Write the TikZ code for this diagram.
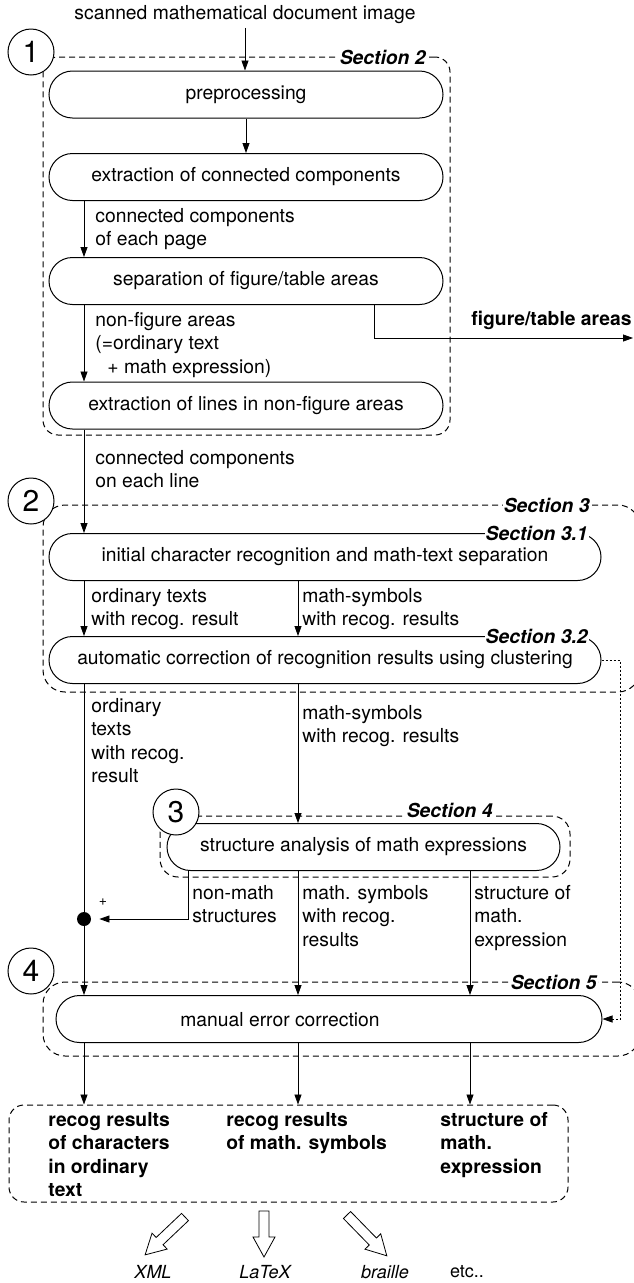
\documentclass[tikz,border=0pt]{standalone}
\usepackage{fontspec}
\setmainfont{TeX Gyre Heros}
\usetikzlibrary{arrows.meta,positioning,calc}

\begin{document}
\begin{tikzpicture}[x=1pt,y=-1pt,
 font=\fontsize{19.3}{23.3}\selectfont,
 >={Triangle[length=10pt,width=7pt]},
 line width=.8pt,
 proc/.style={draw,line width=1pt,rounded corners=23.5pt,minimum height=47pt,inner sep=0pt},
 secbox/.style={draw,line width=1pt,dash pattern=on 6pt off 4pt,rounded corners=#1,inner sep=0pt},
 secbox/.default=15pt,
 seclab/.style={font=\fontsize{19.3}{23.3}\selectfont\bfseries\itshape,fill=white,inner sep=1pt},
 lab/.style={align=left,inner sep=0pt,anchor=north west},
 reslab/.style={lab,font=\fontsize{19.3}{23.3}\selectfont\bfseries},
 num/.style={draw,circle,fill=white,minimum size=46pt,inner sep=0pt,line width=1pt,font=\fontsize{30}{30}\selectfont},
 outlab/.style={font=\fontsize{18}{18}\selectfont\itshape},
 pics/harrow/.style={code={\draw[line width=.8pt,line join=miter,fill=white] (0,5) -- ({#1-20},5) -- ({#1-20},11) -- (#1,0) -- ({#1-20},-11) -- ({#1-20},-5) -- (0,-5) -- cycle;}}]
\useasboundingbox (0,0) rectangle (634,1283);
\node[secbox,minimum width=407pt,minimum height=378pt] (s2) at (246.5,246) {};
\node[secbox=22pt,minimum width=597pt,minimum height=187pt] (s3) at (341.5,598.5) {};
\node[secbox=18pt,minimum width=410pt,minimum height=61pt] (s4) at (365,846.5) {};
\node[secbox=22pt,minimum width=597pt,minimum height=74pt] (s5) at (341.5,1019) {};
\node[secbox,minimum width=559pt,minimum height=97pt] (res) at (288.5,1153.5) {};

\node (title) at (245,15) {scanned mathematical document image};
\node[proc,minimum width=394pt] (pre) at (246,94.5) {preprocessing};
\node[proc,minimum width=394pt] (ext) at (246,177) {extraction of connected components};
\node[proc,minimum width=394pt] (sep) at (246,281) {separation of figure/table areas};
\node[proc,minimum width=394pt] (lines) at (246,405.5) {extraction of lines in non-figure areas};
\node[proc,minimum width=552pt] (init) at (325,557) {initial character recognition and math-text separation};
\node[proc,minimum width=552pt] (autocorr) at (325,660) {automatic correction of recognition results using clustering};
\node[proc,minimum width=393pt] (struct) at (363.5,847) {structure analysis of math expressions};
\node[proc,minimum width=546pt] (manual) at (329,1019) {};
\node (manualtxt) at (280,1020) {manual error correction};

\node[seclab,anchor=east] (l2) at (427,57) {Section 2};
\node[seclab,anchor=east] (l3) at (591,505) {Section 3};
\node[seclab,anchor=east] (l31) at (589,533) {Section 3.1};
\node[seclab,anchor=east] (l32) at (589,636) {Section 3.2};
\node[seclab,anchor=base east] (l4) at (494,817) {Section 4};
\node[seclab,anchor=east] (l5) at (598,982) {Section 5};

\node[lab] (cc1) at (95,208) {connected components\\of each page};
\node[lab] (nonfig) at (95,312) {non-figure areas\\(=ordinary text\\\hspace*{12pt}+ math expression)};
\node[anchor=west,inner sep=0pt,font=\fontsize{19.3}{23.3}\selectfont\bfseries] (figlab) at (471,320) {figure/table areas};
\node[lab] (cc2) at (95,450) {connected components\\on each line};
\node[lab] (ord1) at (91,588) {ordinary texts\\with recog. result};
\node[lab] (ms1) at (302,588) {math-symbols\\with recog. results};
\node[lab] (ord2) at (91,698) {ordinary\\texts\\with recog.\\result};
\node[lab] (ms2) at (302,705) {math-symbols\\with recog. results};
\node[lab] (nonmath) at (192,885) {non-math\\structures};
\node[lab] (mathsym) at (302,885) {math. symbols\\with recog.\\results};
\node[lab] (structof) at (474,885) {structure of\\math.\\expression};
\node[reslab] (r1) at (48,1112) {recog results\\of characters\\in ordinary\\text};
\node[reslab] (r2) at (226,1112) {recog results\\of math. symbols};
\node[reslab] (r3) at (440,1112) {structure of\\math.\\expression};

\coordinate (colA) at (84,0);
\coordinate (colB) at (298,0);
\coordinate (colC) at (470,0);
\coordinate (colF) at (374,0);
\coordinate (colN) at (188,0);
\coordinate (fb) at (620,0);
\coordinate (figout) at (633,338);
\node[circle,fill,inner sep=0pt,minimum size=14pt] (dot) at (84,919) {};
\node[font=\fontsize{14}{14}\selectfont] (plus) at (103,902) {+};

\draw[->] (title.south) -- (title.south |- pre.north);
\draw[->] (pre) -- (ext);
\draw[->] (ext.south -| colA) -- (sep.north -| colA);
\draw[->] (sep.south -| colA) -- (lines.north -| colA);
\draw[->] (sep.south -| colF) |- (figout);
\draw[->] (lines.south -| colA) -- (init.north -| colA);
\draw[->] (init.south -| colA) -- (autocorr.north -| colA);
\draw[->] (init.south -| colB) -- (autocorr.north -| colB);
\draw (autocorr.south -| colA) -- (dot);
\draw[->] (dot) -- (manual.north -| colA);
\draw[->] (autocorr.south -| colB) -- (struct.north -| colB);
\draw[->,shorten >=8pt] (struct.south -| colN) |- (dot);
\draw[->] (struct.south -| colB) -- (manual.north -| colB);
\draw[->] (struct.south -| colC) -- (manual.north -| colC);
\draw[->,dash pattern=on 2pt off 2pt] (autocorr.east) -- (autocorr.east -| fb) |- (manual.east);
\foreach \c in {colA,colB,colC}
 \draw[->] (manual.south -| \c) -- (res.north -| \c);

\node[num] (n1) at (31,52) {1};
\node[num] (n2) at (31,501) {2};
\node[num] (n3) at (176,812) {3};
\node[num] (n4) at (31,971) {4};

\pic[rotate=-136.5] at (185,1217) {harrow=55};
\pic[rotate=-90] at (264,1211) {harrow=46};
\pic[rotate=-45.7] at (347,1215) {harrow=57};
\node[outlab] (xml) at (153,1272) {XML};
\node[outlab] (latex) at (265,1272) {LaTeX};
\node[outlab] (braille) at (385,1272) {braille};
\node[font=\fontsize{18}{18}\selectfont] (etc) at (467,1272) {etc..};
\end{tikzpicture}
\end{document}
